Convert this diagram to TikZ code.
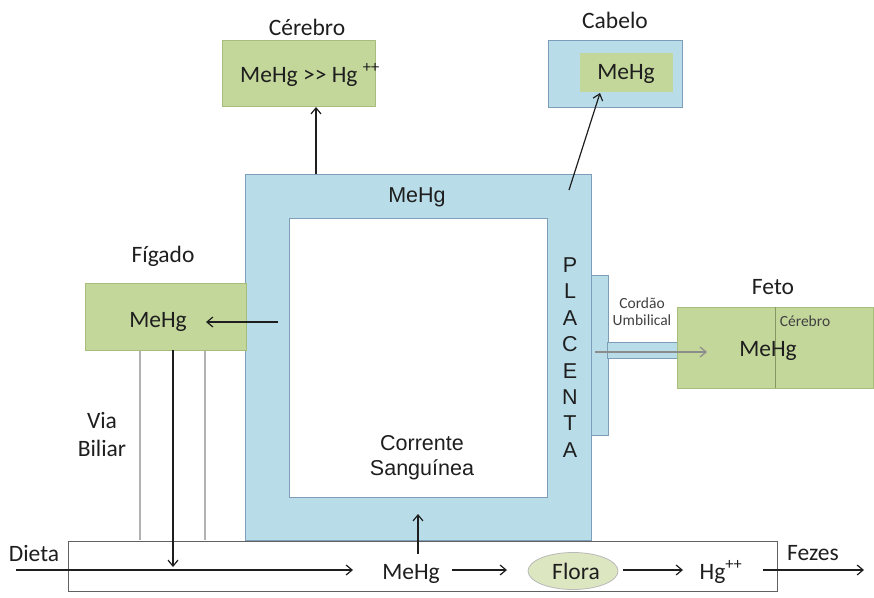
\documentclass[tikz,border=0pt]{standalone}
\usepackage{fontspec}
\setmainfont{Carlito}
\newfontfamily\arialf{Liberation Sans}
\usetikzlibrary{arrows.meta,shapes.geometric}
\definecolor{gfill}{HTML}{C4D79B}
\definecolor{gline}{HTML}{A7BD7C}
\definecolor{bfill}{HTML}{B8DCE8}
\definecolor{bline}{HTML}{7D9DB8}
\definecolor{txt}{HTML}{1E1E1E}
\definecolor{ffill}{HTML}{DCE6C0}
\tikzset{
  greenbox/.style={draw=gline, fill=gfill, line width=0.8pt, inner sep=0pt},
  bluebox/.style={draw=bline, fill=bfill, line width=0.9pt, inner sep=0pt},
  big/.style={font=\fontsize{23.5}{27}\selectfont, text=txt, inner sep=0pt},
  arl/.style={font=\arialf\fontsize{21.5}{25}\selectfont, text=txt, inner sep=0pt},
  small/.style={font=\fontsize{15.5}{18}\selectfont, text=txt!85, inner sep=0pt},
  arr/.style={-{Straight Barb[length=6pt,width=10pt,line width=1.2pt]}, line width=1.2pt, draw=txt},
  grayarr/.style={-{Straight Barb[length=6pt,width=10pt,line width=1.2pt]}, line width=1.2pt, draw=gray!90},
  bile/.style={draw=gray!60, line width=1.1pt}
}
\begin{document}
\begin{tikzpicture}[x=1pt,y=-1pt]
\useasboundingbox (0,0) rectangle (874,597);
% intestine
\node[draw=txt!70, line width=1pt, minimum width=709pt, minimum height=50pt, inner sep=0pt] (gut) at (422.5,566) {};
% via biliar tube
\coordinate (b1t) at (140,350); \coordinate (b1b) at (140,540);
\coordinate (b2t) at (205,350); \coordinate (b2b) at (205,540);
\draw[bile] (b1t) -- (b1b);
\draw[bile] (b2t) -- (b2b);
% blood frame
\node[bluebox, minimum width=346pt, minimum height=366pt] (frame) at (418,357) {};
\node[draw=bline, fill=white, line width=0.9pt, minimum width=258pt, minimum height=279pt, inner sep=0pt] (inner) at (418,357.5) {};
\node[arl] (meframe) at (417,197) {MeHg};
\node[arl] (corr) at (422,443) {Corrente};
\node[arl] (sang) at (422,470) {Sanguínea};
\foreach \l [count=\i from 0] in {P,L,A,C,E,N,T,A}
  \node[arl] (pl\i) at (570,{265+26.4*\i}) {\l};
% placenta tab, cord
\node[bluebox, minimum width=17pt, minimum height=160pt] (tab) at (599.5,355) {};
\node[bluebox, minimum width=71pt, minimum height=16pt] (cord) at (642.5,350) {};
\node[small] (cordao) at (642,303) {Cordão};
\node[small] (umb) at (642,320) {Umbilical};
% feto
\node[greenbox, minimum width=196pt, minimum height=81pt] (feto) at (775,347.5) {};
\coordinate (divt) at (775,307); \coordinate (divb) at (775,388);
\draw[gline!80!black, line width=0.8pt] (divt) -- (divb);
\node[big] (fetolab) at (773,287) {Feto};
\node[small] (fetocer) at (805,321) {Cérebro};
\node[big] (fetome) at (768,351) {MeHg};
\coordinate (cordst) at (595,352);
\coordinate (cordend) at (707,352);
\draw[grayarr] (cordst) -- (cordend);
% cerebro
\node[greenbox, minimum width=153pt, minimum height=66pt] (cerebro) at (298.5,73) {};
\node[big] (cerme) at (310,75) {MeHg >{}> Hg \textsuperscript{++}};
\node[big] (cerlab) at (307,27) {Cérebro};
\coordinate (cerst) at (316,174);
\coordinate (cerend) at (316,107);
\draw[arr] (cerst) -- (cerend);
% cabelo
\node[bluebox, minimum width=134pt, minimum height=67pt] (cabelo) at (615,73.5) {};
\node[fill=gfill, minimum width=93pt, minimum height=39pt, inner sep=0pt] (cabin) at (626.5,72.5) {};
\node[big] (cabme) at (626,74) {MeHg};
\node[big] (cablab) at (615,20) {Cabelo};
\coordinate (cabst) at (569,190);
\coordinate (cabend) at (600,93);
\draw[arr] (cabst) -- (cabend);
% figado
\node[greenbox, minimum width=161pt, minimum height=67pt] (figado) at (165.5,316.5) {};
\node[big] (figme) at (158,322) {MeHg};
\node[big] (figlab) at (163,256) {Fígado};
\coordinate (figst) at (278,322);
\coordinate (figend) at (206,322);
\draw[arr] (figst) -- (figend);
\node[big] (via) at (102,420) {Via};
\node[big] (bil) at (102,448) {Biliar};
\coordinate (bilst) at (173,350);
\coordinate (bilend) at (173,567);
\draw[arr] (bilst) -- (bilend);
% bottom row
\node[big] (dieta) at (34,553) {Dieta};
\coordinate (dst) at (16,570);
\coordinate (dend) at (353,570);
\draw[arr] (dst) -- (dend);
\node[big] (gutme) at (411,574) {MeHg};
\coordinate (upst) at (418,554);
\coordinate (upend) at (418,514);
\draw[arr] (upst) -- (upend);
\node[ellipse, draw=gray!55, fill=ffill, line width=0.8pt, minimum width=90pt, minimum height=37pt, inner sep=0pt] (flora) at (573,571) {};
\node[big] (floratxt) at (576,571) {Flora};
\coordinate (a1s) at (452,570);
\coordinate (a1e) at (507,570);
\draw[arr] (a1s) -- (a1e);
\coordinate (a2s) at (623,570);
\coordinate (a2e) at (683,570);
\draw[arr] (a2s) -- (a2e);
\node[big] (hg) at (721,572) {Hg\textsuperscript{++}};
\coordinate (fzst) at (763,570);
\coordinate (fzend) at (864,570);
\draw[arr] (fzst) -- (fzend);
\node[big] (fezes) at (813,553) {Fezes};
\end{tikzpicture}
\end{document}
